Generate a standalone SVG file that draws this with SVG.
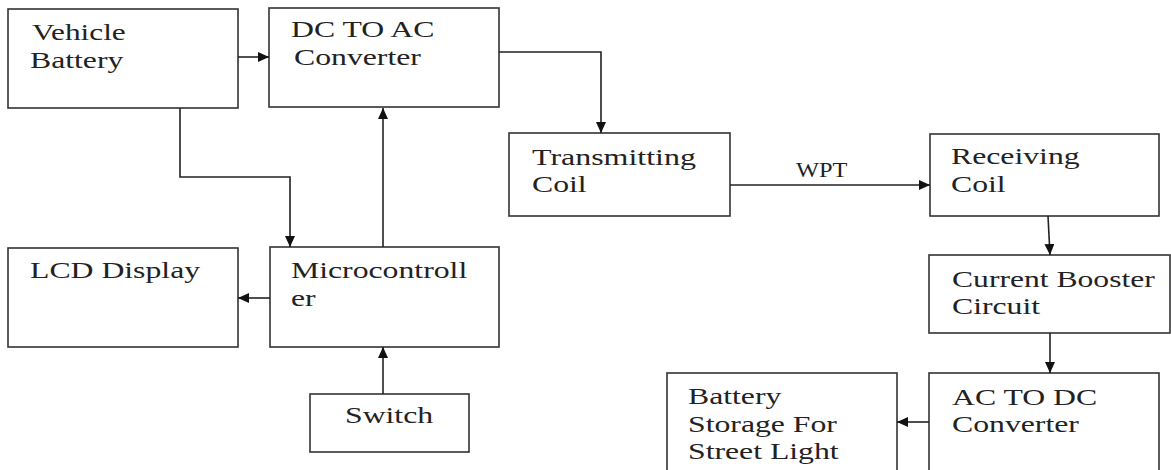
<svg xmlns="http://www.w3.org/2000/svg" width="1171" height="470" viewBox="0 0 1171 470">
<style>
.box{fill:#fff;stroke:#333;stroke-width:1.6}
.t{font-family:'Liberation Serif',serif;font-size:23px;fill:#222}
.c{fill:none;stroke:#222;stroke-width:1.6;marker-end:url(#ah)}
</style>
<defs>
<marker id="ah" markerUnits="userSpaceOnUse" markerWidth="12" markerHeight="10" refX="11" refY="5" orient="auto">
<path d="M0,0 L11,5 L0,10 z" fill="#111"/>
</marker>
</defs>
<rect width="1171" height="470" fill="#fff"/>
<g id="vehicle-battery">
<rect class="box" x="8" y="9" width="230" height="99"/>
<text class="t" font-family="Liberation Serif" transform="translate(32,40) scale(1.36,1)">Vehicle</text>
<text class="t" font-family="Liberation Serif" transform="translate(30,68) scale(1.38,1)">Battery</text>
</g>
<g id="dc-ac">
<rect class="box" x="269" y="8" width="230" height="99"/>
<text class="t" font-family="Liberation Serif" transform="translate(291,37) scale(1.38,1)">DC TO AC</text>
<text class="t" font-family="Liberation Serif" transform="translate(294,65) scale(1.38,1)">Converter</text>
</g>
<g id="lcd">
<rect class="box" x="8" y="248" width="230" height="99"/>
<text class="t" font-family="Liberation Serif" transform="translate(30,278) scale(1.38,1)">LCD Display</text>
</g>
<g id="micro">
<rect class="box" x="270" y="247" width="229" height="100"/>
<text class="t" font-family="Liberation Serif" transform="translate(291,278) scale(1.38,1)">Microcontroll</text>
<text class="t" font-family="Liberation Serif" transform="translate(291,306) scale(1.38,1)">er</text>
</g>
<g id="switch">
<rect class="box" x="310" y="394" width="159" height="58"/>
<text class="t" font-family="Liberation Serif" transform="translate(345,423) scale(1.38,1)">Switch</text>
</g>
<g id="tx-coil">
<rect class="box" x="509" y="133" width="221" height="83"/>
<text class="t" font-family="Liberation Serif" transform="translate(532,165) scale(1.39,1)">Transmitting</text>
<text class="t" font-family="Liberation Serif" transform="translate(532,192) scale(1.38,1)">Coil</text>
</g>
<g id="rx-coil">
<rect class="box" x="930" y="134" width="229" height="82"/>
<text class="t" font-family="Liberation Serif" transform="translate(951,164) scale(1.38,1)">Receiving</text>
<text class="t" font-family="Liberation Serif" transform="translate(951,192) scale(1.38,1)">Coil</text>
</g>
<g id="booster">
<rect class="box" x="929" y="255" width="241" height="78"/>
<text class="t" font-family="Liberation Serif" transform="translate(952,287) scale(1.375,1)">Current Booster</text>
<text class="t" font-family="Liberation Serif" transform="translate(952,314) scale(1.38,1)">Circuit</text>
</g>
<g id="ac-dc">
<rect class="box" x="929" y="373" width="230" height="110"/>
<text class="t" font-family="Liberation Serif" transform="translate(952,405) scale(1.38,1)">AC TO DC</text>
<text class="t" font-family="Liberation Serif" transform="translate(952,432) scale(1.38,1)">Converter</text>
</g>
<g id="storage">
<rect class="box" x="667" y="373" width="230" height="110"/>
<text class="t" font-family="Liberation Serif" transform="translate(688,404) scale(1.38,1)">Battery</text>
<text class="t" font-family="Liberation Serif" transform="translate(688,432) scale(1.38,1)">Storage For</text>
<text class="t" font-family="Liberation Serif" transform="translate(688,459) scale(1.38,1)">Street Light</text>
</g>
<g id="connectors">
<path class="c" d="M238,57 H269"/>
<path class="c" d="M180,108 V177 H290 V247"/>
<path class="c" d="M383,247 V108"/>
<path class="c" d="M270,298 H238"/>
<path class="c" d="M383,394 V347"/>
<path class="c" d="M499,52 H601 V133"/>
<path class="c" d="M730,185 H930"/>
<path class="c" d="M1048,216 L1050,255"/>
<path class="c" d="M1050,333 V373"/>
<path class="c" d="M929,422 H897"/>
<text class="t" font-family="Liberation Serif" transform="translate(796,177) scale(1.22,1)" style="font-size:20px">WPT</text>
</g>
</svg>
